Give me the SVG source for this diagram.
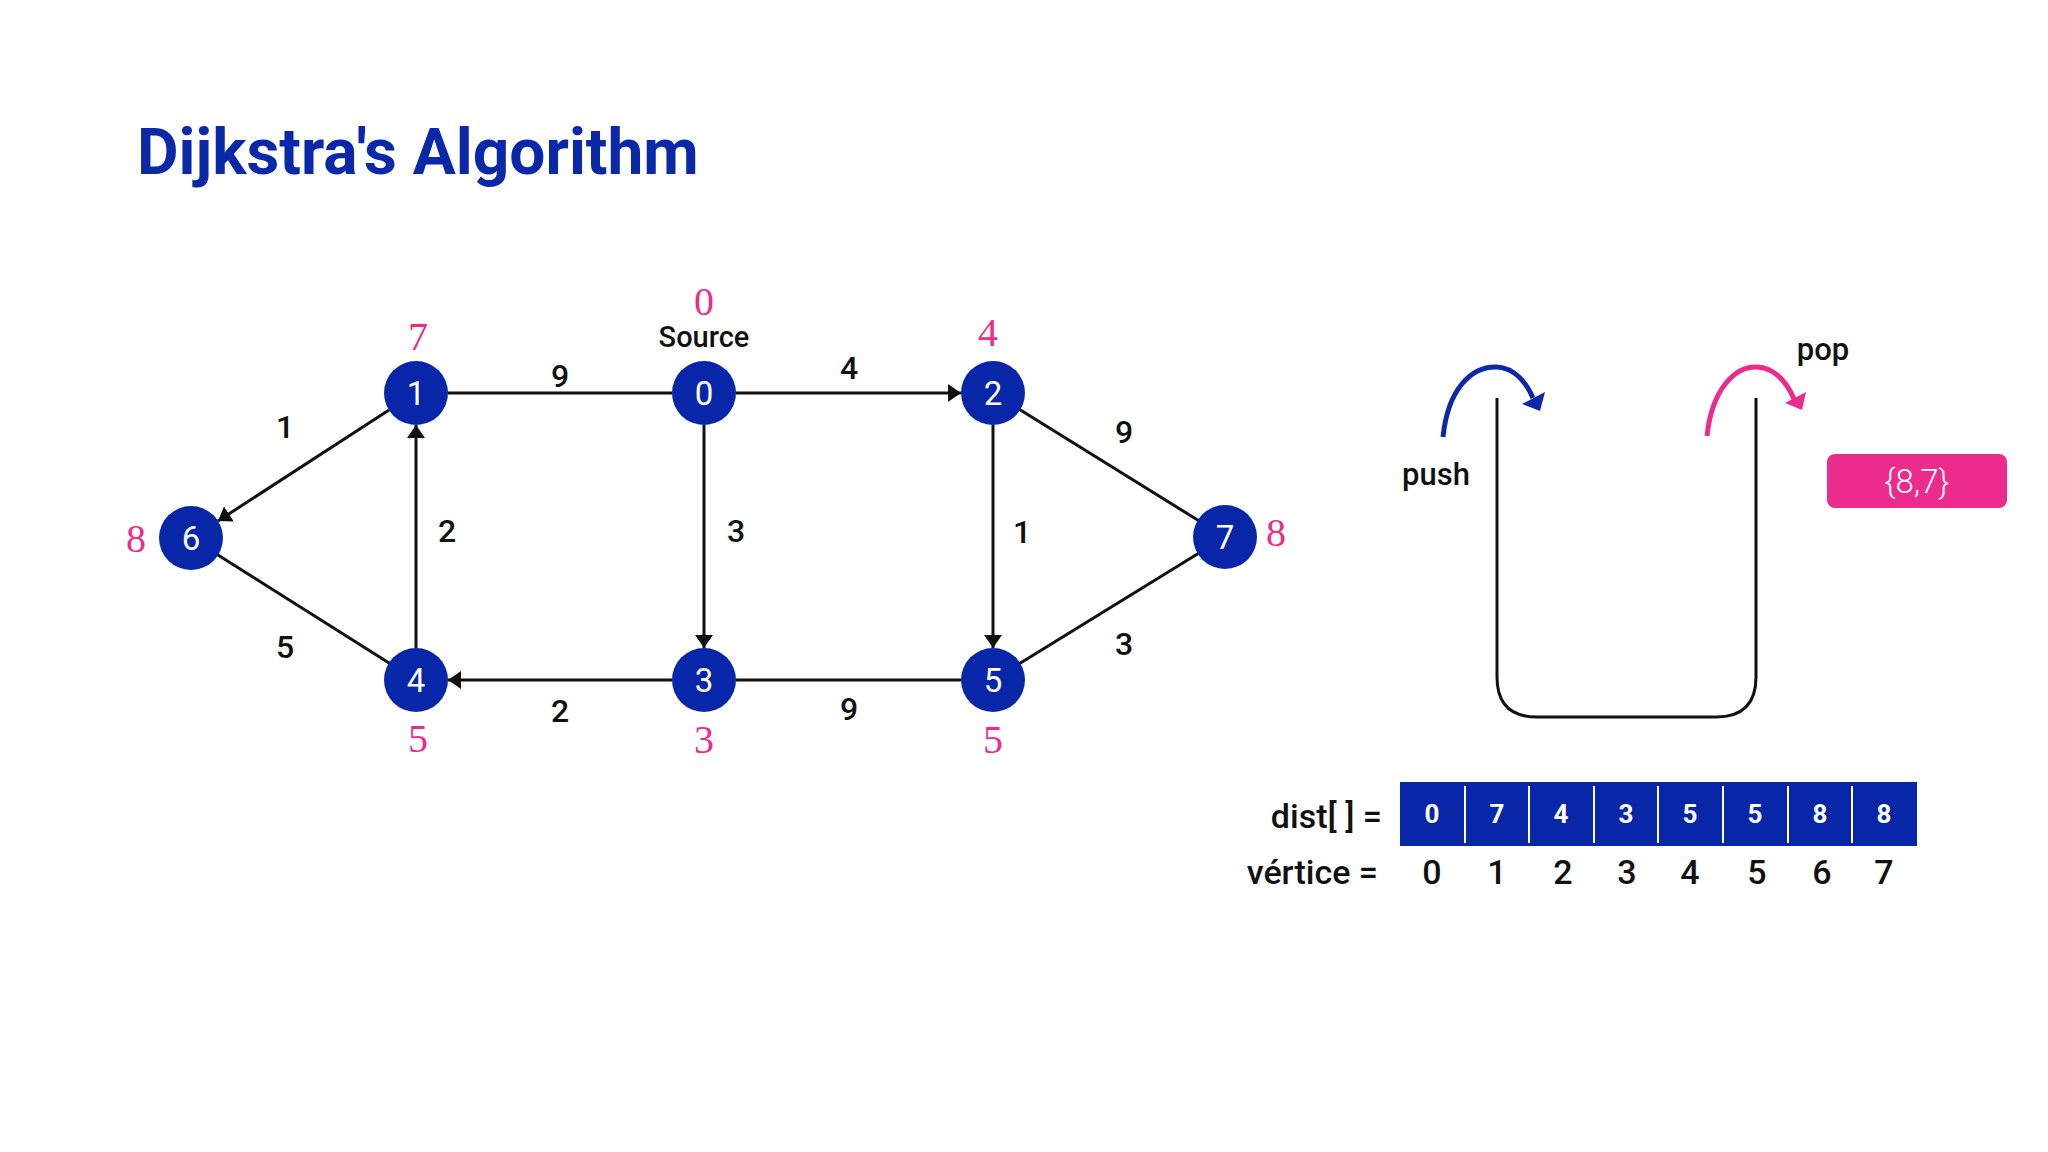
<svg xmlns="http://www.w3.org/2000/svg" width="2048" height="1152" viewBox="0 0 2048 1152">
<defs>
<style>
.title{font-family:Roboto,"Liberation Sans",sans-serif;font-weight:700;font-size:64px;fill:#0A28A8}
.node{fill:#0826A8}
.nl{font-family:Roboto,"Liberation Sans",sans-serif;font-size:33px;fill:#fff;text-anchor:middle}
.el{font-family:Roboto,"Liberation Sans",sans-serif;font-weight:500;font-size:32px;fill:#111;text-anchor:middle}
.dl{font-family:"Liberation Serif","DejaVu Serif",serif;font-size:40px;fill:#EC2C8C;text-anchor:middle}
.lbl{font-family:Roboto,"Liberation Sans",sans-serif;font-weight:500;fill:#111}
.edge{stroke:#111;stroke-width:3;fill:none}
.cell{font-family:Roboto,"Liberation Sans",sans-serif;font-weight:700;font-size:26px;fill:#fff;text-anchor:middle}
.vx{font-family:Roboto,"Liberation Sans",sans-serif;font-weight:500;font-size:34px;fill:#111;text-anchor:middle}
</style>
<marker id="arr" viewBox="0 0 13 18" refX="13" refY="9" markerWidth="13" markerHeight="18" markerUnits="userSpaceOnUse" orient="auto">
<path d="M0,0 L13,9 L0,18 z" fill="#111"/>
</marker>
</defs>
<rect width="2048" height="1152" fill="#fff"/>
<text class="title" x="137" y="174">Dijkstra's Algorithm</text>

<g id="connectors">
<line class="edge" x1="448" y1="393" x2="672" y2="393"/>
<line class="edge" x1="736" y1="393" x2="961" y2="393" marker-end="url(#arr)"/>
<line class="edge" x1="704" y1="425" x2="704" y2="648" marker-end="url(#arr)"/>
<line class="edge" x1="993" y1="425" x2="993" y2="648" marker-end="url(#arr)"/>
<line class="edge" x1="672" y1="680" x2="448" y2="680" marker-end="url(#arr)"/>
<line class="edge" x1="416" y1="648" x2="416" y2="425" marker-end="url(#arr)"/>
<line class="edge" x1="389" y1="410" x2="218" y2="521" marker-end="url(#arr)"/>
<line class="edge" x1="736" y1="680" x2="961" y2="680"/>
<line class="edge" x1="191" y1="538" x2="416" y2="680"/>
<line class="edge" x1="993" y1="393" x2="1225" y2="537"/>
<line class="edge" x1="993" y1="680" x2="1225" y2="537"/>
<text class="el" x="560" y="387">9</text>
<text class="el" x="849" y="379">4</text>
<text class="el" x="285" y="438">1</text>
<text class="el" x="447" y="542">2</text>
<text class="el" x="736" y="542">3</text>
<text class="el" x="1022" y="543">1</text>
<text class="el" x="1124" y="443">9</text>
<text class="el" x="285" y="658">5</text>
<text class="el" x="560" y="722">2</text>
<text class="el" x="849" y="720">9</text>
<text class="el" x="1124" y="655">3</text>
</g>

<g id="node0"><circle class="node" cx="704" cy="393" r="32"/><text class="nl" x="704" y="405">0</text>
<text class="lbl" x="704" y="347" font-size="29" text-anchor="middle">Source</text>
<text class="dl" x="704" y="315">0</text></g>
<g id="node1"><circle class="node" cx="416" cy="393" r="32"/><text class="nl" x="416" y="405">1</text><text class="dl" x="418" y="350">7</text></g>
<g id="node2"><circle class="node" cx="993" cy="393" r="32"/><text class="nl" x="993" y="405">2</text><text class="dl" x="988" y="346">4</text></g>
<g id="node3"><circle class="node" cx="704" cy="680" r="32"/><text class="nl" x="704" y="692">3</text><text class="dl" x="704" y="753">3</text></g>
<g id="node4"><circle class="node" cx="416" cy="680" r="32"/><text class="nl" x="416" y="692">4</text><text class="dl" x="418" y="752">5</text></g>
<g id="node5"><circle class="node" cx="993" cy="680" r="32"/><text class="nl" x="993" y="692">5</text><text class="dl" x="993" y="753">5</text></g>
<g id="node6"><circle class="node" cx="191" cy="538" r="32"/><text class="nl" x="191" y="550">6</text><text class="dl" x="136" y="552">8</text></g>
<g id="node7"><circle class="node" cx="1225" cy="537" r="32"/><text class="nl" x="1225" y="549">7</text><text class="dl" x="1276" y="546">8</text></g>

<g id="stack">
<path d="M1497,398 L1497,677 Q1497,717 1537,717 L1716,717 Q1756,717 1756,677 L1756,398" fill="none" stroke="#111" stroke-width="3"/>
<path d="M1443,437 C1448,388 1472,366 1497,367 C1514,368 1526,382 1533,398" fill="none" stroke="#0A28A8" stroke-width="5"/>
<polygon points="1522,404 1545,392 1540,411" fill="#0A28A8"/>
<path d="M1707,436 C1712,389 1735,366 1757,367 C1775,368 1787,383 1794,399" fill="none" stroke="#EC2C8C" stroke-width="5"/>
<polygon points="1785,403 1806,392 1802,410" fill="#EC2C8C"/>
<text class="lbl" x="1436" y="485" font-size="31" text-anchor="middle">push</text>
<text class="lbl" x="1823" y="360" font-size="31" text-anchor="middle">pop</text>
</g>

<g id="popped">
<rect x="1827" y="454" width="180" height="54" rx="8" fill="#EC2C8C"/>
<text x="1917" y="493" font-family="Roboto,'Liberation Sans',sans-serif" font-weight="300" font-size="33" fill="#fff" text-anchor="middle">{8,7}</text>
</g>

<g id="dist">
<text class="lbl" x="1382" y="828" font-size="34" text-anchor="end">dist[ ] =</text>
<rect x="1400" y="782" width="517" height="64" fill="#0826A8"/>
<g stroke="#fff" stroke-width="2">
<line x1="1465" y1="786" x2="1465" y2="843"/>
<line x1="1529" y1="786" x2="1529" y2="843"/>
<line x1="1594" y1="786" x2="1594" y2="843"/>
<line x1="1658" y1="786" x2="1658" y2="843"/>
<line x1="1723" y1="786" x2="1723" y2="843"/>
<line x1="1788" y1="786" x2="1788" y2="843"/>
<line x1="1852" y1="786" x2="1852" y2="843"/>
</g>
<text class="cell" x="1432" y="823">0</text>
<text class="cell" x="1497" y="823">7</text>
<text class="cell" x="1561" y="823">4</text>
<text class="cell" x="1626" y="823">3</text>
<text class="cell" x="1690" y="823">5</text>
<text class="cell" x="1755" y="823">5</text>
<text class="cell" x="1820" y="823">8</text>
<text class="cell" x="1884" y="823">8</text>
<text class="lbl" x="1378" y="884" font-size="34" text-anchor="end">vértice =</text>
<text class="vx" x="1432" y="884">0</text>
<text class="vx" x="1497" y="884">1</text>
<text class="vx" x="1563" y="884">2</text>
<text class="vx" x="1627" y="884">3</text>
<text class="vx" x="1690" y="884">4</text>
<text class="vx" x="1757" y="884">5</text>
<text class="vx" x="1822" y="884">6</text>
<text class="vx" x="1884" y="884">7</text>
</g>
</svg>
